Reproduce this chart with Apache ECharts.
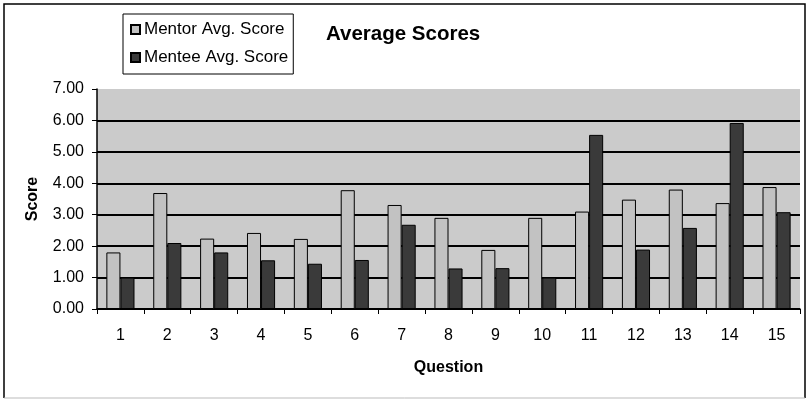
<!DOCTYPE html>
<html>
<head>
<meta charset="utf-8">
<script src="https://cdn.jsdelivr.net/npm/echarts@6/dist/echarts.min.js"></script>
<style>
  html, body { margin: 0; padding: 0; background: #fff; }
  #chart { width: 808px; height: 400px; }
</style>
</head>
<body>
<div id="chart"></div>
<script>
// Survey questions and their average scores
const questions = ['1','2','3','4','5','6','7','8','9','10','11','12','13','14','15'];
const mentorScores = [1.80, 3.69, 2.24, 2.42, 2.23, 3.78, 3.31, 2.90, 1.88, 2.90, 3.10, 3.48, 3.80, 3.37, 3.88];
const menteeScores = [1.00, 2.10, 1.80, 1.55, 1.44, 1.56, 2.68, 1.29, 1.30, 1.00, 5.54, 1.89, 2.58, 5.92, 3.08];
const scoreTicks = [0, 1, 2, 3, 4, 5, 6, 7];

const FONT = '"Liberation Sans", Arial, sans-serif';
const chart = echarts.init(document.getElementById('chart'));

// gridlines at every tick except the top one
const gridColors = scoreTicks.map((t, i) => i === scoreTicks.length - 1 ? 'rgba(0,0,0,0)' : '#000');

chart.setOption({
  animation: false,
  backgroundColor: '#fff',
  textStyle: { fontFamily: FONT, color: '#000' },
  title: {
    text: 'Average Scores',
    left: 321, top: 19,
    textStyle: { fontFamily: FONT, fontSize: 20.5, fontWeight: 'bold', color: '#000' }
  },
  legend: {
    orient: 'vertical',
    left: 123, top: 14,
    padding: [7, 5, 8, 7],
    itemGap: 11,
    itemWidth: 9, itemHeight: 9,
    borderColor: '#000', borderWidth: 1,
    icon: 'rect',
    textStyle: { fontFamily: FONT, fontSize: 17, color: '#000', padding: [0, 0, 0, -1] },
    data: ['Mentor Avg. Score', 'Mentee Avg. Score']
  },
  grid: {
    left: 97, right: 8, top: 89, bottom: 91,
    show: true, backgroundColor: '#cbcbcb', borderWidth: 0
  },
  xAxis: {
    type: 'category',
    data: questions,
    name: 'Question',
    nameLocation: 'middle',
    nameGap: 51,
    nameTextStyle: { fontFamily: FONT, fontSize: 16, fontWeight: 'bold', color: '#000' },
    axisLine: { lineStyle: { color: '#000', width: 1.5 } },
    axisTick: { show: true, length: 5, lineStyle: { color: '#000' } },
    axisLabel: { fontFamily: FONT, fontSize: 16, color: '#000', margin: 19 }
  },
  yAxis: {
    type: 'value',
    min: scoreTicks[0], max: scoreTicks[scoreTicks.length - 1], interval: 1,
    name: 'Score',
    nameLocation: 'middle',
    nameGap: 56,
    nameTextStyle: { fontFamily: FONT, fontSize: 16, fontWeight: 'bold', color: '#000' },
    axisLine: { show: true, lineStyle: { color: '#000', width: 1.5 } },
    axisTick: { show: true, length: 5, lineStyle: { color: '#000' } },
    axisLabel: { fontFamily: FONT, fontSize: 16, color: '#000', margin: 13,
                 formatter: v => v.toFixed(2) },
    splitLine: { show: true, lineStyle: { color: gridColors, width: 1.8 } }
  },
  series: [
    {
      name: 'Mentor Avg. Score',
      type: 'bar',
      data: mentorScores,
      barGap: '0%',
      barCategoryGap: '40%',
      itemStyle: { color: '#c2c2c2', borderColor: '#000', borderWidth: 1 }
    },
    {
      name: 'Mentee Avg. Score',
      type: 'bar',
      data: menteeScores,
      itemStyle: { color: '#3a3a3a', borderColor: '#000', borderWidth: 1 }
    }
  ],
  graphic: [
    { type: 'polyline', silent: true,
      shape: { points: [[4, 398], [4, 4], [805, 4], [805, 398]] },
      style: { stroke: '#000', lineWidth: 1.5, fill: null } },
    { type: 'line', silent: true,
      shape: { x1: 4, y1: 398, x2: 805, y2: 398 },
      style: { stroke: '#bbb', lineWidth: 1 } }
  ]
});
</script>
</body>
</html>
